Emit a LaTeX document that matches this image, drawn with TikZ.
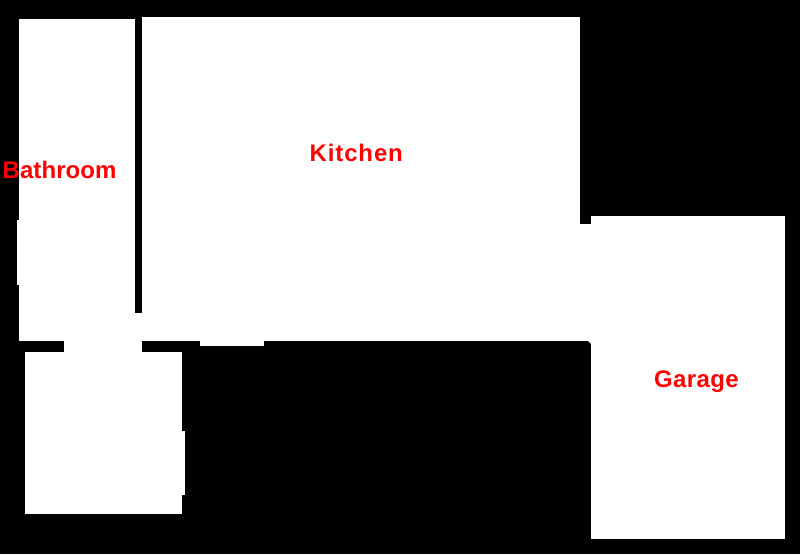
\documentclass[tikz,border=0pt]{standalone}
\usepackage{fontspec}
\setmainfont{Liberation Sans}
\tikzset{
  floorarea/.style={fill=white,draw=none},
  roomlabel/.style={text=red,font=\fontsize{24}{24}\selectfont\bfseries,inner sep=0pt,anchor=base west}
}
\begin{document}
\begin{tikzpicture}[x=1pt,y=-1pt]
\path[use as bounding box,fill=black] (0,0) rectangle (800,554);
% Bathroom
\path[floorarea] (19,19) rectangle (135,341);
\path[floorarea] (17,220) rectangle (19,285);
% Kitchen
\path[floorarea] (142,17) rectangle (580,341);
\path[floorarea] (135,313) rectangle (142,341);
\path[floorarea] (200,341) rectangle (264,346);
% Passage to garage
\path[floorarea] (580,224) rectangle (591,341);
\path[floorarea] (588,341) -- (591,341) -- (591,344) -- cycle;
% Garage
\path[floorarea] (591,216) rectangle (785,539);
% Lower room
\path[floorarea] (25,352) rectangle (182,514);
\path[floorarea] (182,431) rectangle (185,495);
\path[floorarea] (64,341) rectangle (142,352);
% Labels
\node[roomlabel] (bathroom) at (2.5,178) {\addfontfeatures{LetterSpace=0.3}Bathroom};
\node[roomlabel] (kitchen) at (309.5,161) {\addfontfeatures{LetterSpace=3.6}Kitchen};
\node[roomlabel] (garage) at (654,387) {\addfontfeatures{LetterSpace=1.6}Garage};
\end{tikzpicture}
\end{document}
